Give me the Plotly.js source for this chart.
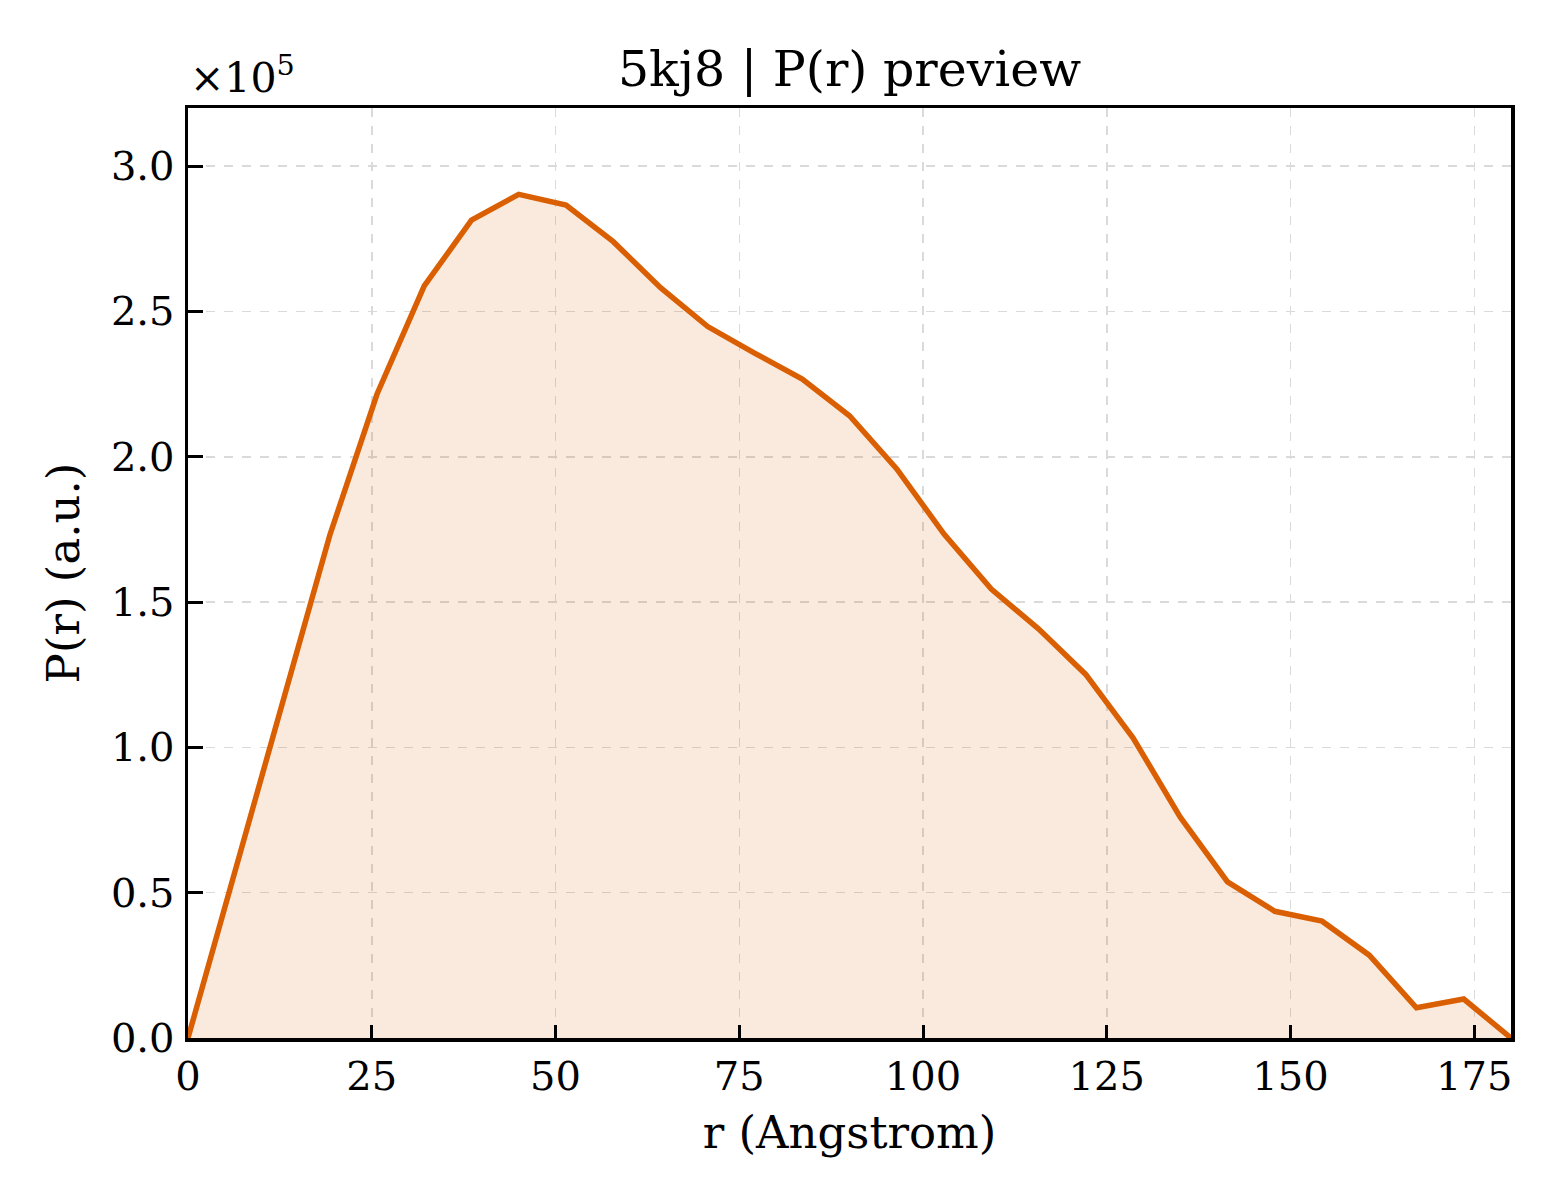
<!DOCTYPE html>
<html>
<head>
<meta charset="utf-8">
<script src="https://cdn.plot.ly/plotly-3.0.1.min.js"></script>
<style>
  html, body { margin: 0; padding: 0; background: #fff; }
  #chart { width: 1560px; height: 1200px; }
</style>
</head>
<body>
<div id="chart"></div>
<script>
// P(r) distance distribution
var r = [0, 6.43, 12.86, 19.29, 25.71, 32.14, 38.57, 45.0, 51.43, 57.86,
         64.29, 70.71, 77.14, 83.57, 90.0, 96.43, 102.86, 109.29, 115.71, 122.14,
         128.57, 135.0, 141.43, 147.86, 154.29, 160.71, 167.14, 173.57, 180.0]
var pr = [0, 58000, 116000, 173000, 221500, 258800, 281400, 290300, 286600, 274000,
          258200, 244800, 235600, 226700, 214100, 195800, 173400, 154500, 140800, 125100,
          103300, 76000, 53700, 43600, 40200, 28500, 10400, 13400, 0]

var xTicks = [0, 25, 50, 75, 100, 125, 150, 175]
var yTicks = [0, 50000, 100000, 150000, 200000, 250000, 300000]
var yTickText = ["0.0", "0.5", "1.0", "1.5", "2.0", "2.5", "3.0"]

var orange = "#d95f02"
var serif = "DejaVu Serif, Liberation Serif, serif"

var data = [
  {
    type: "scatter",
    mode: "lines",
    x: r,
    y: pr,
    fill: "tozeroy",
    fillcolor: "rgba(217,95,2,0.13)",
    line: { color: orange, width: 5.5 },
    hoverinfo: "skip",
  },
]

var layout = {
  width: 1560,
  height: 1200,
  margin: { l: 188, r: 49, t: 108, b: 162 },
  paper_bgcolor: "#fff",
  plot_bgcolor: "#fff",
  showlegend: false,
  font: { family: serif, color: "#000", size: 40 },
  title: {
    text: "5kj8 | P(r) preview",
    font: { family: serif, size: 49, color: "#000" },
    x: 0.5,
    xref: "paper",
    y: 0.943,
    yref: "container",
    yanchor: "middle",
  },
  xaxis: {
    range: [0, 180],
    tickvals: xTicks,
    ticks: "inside",
    ticklen: 13,
    tickwidth: 3,
    tickcolor: "#000",
    ticklabelstandoff: 0,
    showline: true,
    linecolor: "#000",
    linewidth: 3.5,
    mirror: true,
    showgrid: true,
    gridcolor: "#dadada",
    gridwidth: 1.5,
    griddash: "dash",
    zeroline: false,
    tickfont: { family: serif, size: 40 },
    title: { text: "r (Angstrom)", font: { family: serif, size: 45 }, standoff: 20 },
  },
  yaxis: {
    range: [0, 320000],
    tickvals: yTicks,
    ticktext: yTickText,
    ticks: "inside",
    ticklen: 15,
    tickwidth: 3,
    tickcolor: "#000",
    ticklabelstandoff: 2,
    showline: true,
    linecolor: "#000",
    linewidth: 3.5,
    mirror: true,
    showgrid: true,
    gridcolor: "#dadada",
    gridwidth: 1.5,
    griddash: "dash",
    zeroline: false,
    tickfont: { family: serif, size: 40 },
    title: { text: "P(r) (a.u.)", font: { family: serif, size: 45 }, standoff: 18 },
  },
  annotations: [
    {
      text: "×10<sup>5</sup>",
      xref: "paper",
      yref: "paper",
      x: 0,
      y: 1,
      xanchor: "left",
      yanchor: "bottom",
      yshift: 4,
      showarrow: false,
      font: { family: serif, size: 41, color: "#000" },
    },
  ],
}

Plotly.newPlot("chart", data, layout, { displayModeBar: false, staticPlot: true })
</script>
</body>
</html>
